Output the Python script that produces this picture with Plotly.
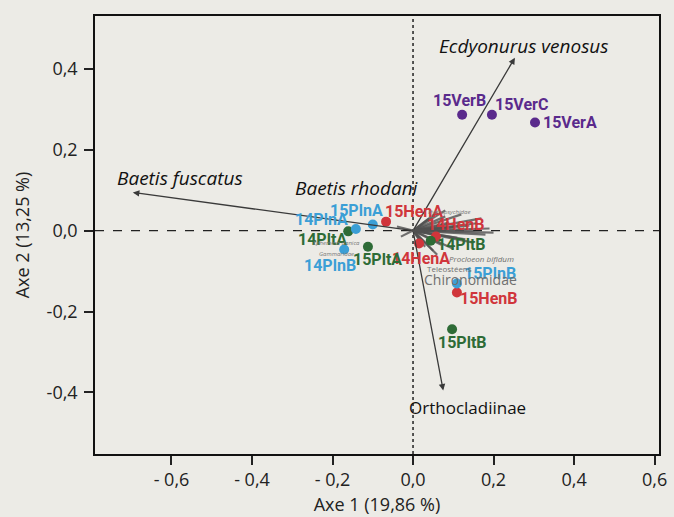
import plotly.graph_objects as go

# Sites (scores on axes 1 and 2)
sites = ["15VerB", "15VerC", "15VerA", "15HenA", "14HenB", "14PltB", "14HenA",
         "15PlnA", "14PlnA", "14PltA", "15PltA", "14PlnB", "15PlnB", "15HenB", "15PltB"]
axe1 = [0.122, 0.196, 0.303, -0.067, 0.057, 0.044, 0.015,
        -0.100, -0.142, -0.161, -0.112, -0.171, 0.109, 0.109, 0.097]
axe2 = [0.286, 0.286, 0.267, 0.022, -0.015, -0.025, -0.032,
        0.015, 0.004, -0.002, -0.040, -0.047, -0.131, -0.153, -0.244]
groups = ["Ver", "Ver", "Ver", "Hen", "Hen", "Plt", "Hen",
          "Pln", "Pln", "Plt", "Plt", "Pln", "Pln", "Hen", "Plt"]

# Main taxa vectors
taxa = ["Ecdyonurus venosus", "Baetis fuscatus", "Orthocladiinae"]
taxa_x = [0.253, -0.696, 0.075]
taxa_y = [0.427, 0.094, -0.395]

# Minor taxa vectors (cluster near origin)
minor_x = [0.19, 0.17, 0.15, 0.12, 0.10, 0.08, 0.06, 0.05, 0.14, 0.11, 0.09, 0.07,
           -0.04, -0.03, 0.03, 0.18, 0.16, 0.13, 0.04, 0.02, 0.06, 0.08, 0.2, 0.15, 0.1]
minor_y = [0.005, 0.03, -0.03, 0.04, -0.045, 0.035, 0.045, -0.05, 0.012, -0.018, 0.02, -0.035,
           0.01, -0.015, -0.04, -0.01, 0.018, -0.022, 0.03, -0.03, -0.06, 0.05, -0.005, 0.0, 0.008]

colors = {"Ver": "#5a2a8c", "Hen": "#d0353b", "Plt": "#2e6b36", "Pln": "#3b9fd6"}

offsets = {"15VerB": (-3, 14), "15VerC": (30, 10), "15VerA": (35, 0),
           "15HenA": (28, 10), "14HenB": (20, 12), "14PltB": (31, -4),
           "14HenA": (2, -15), "15PlnA": (-16, 14), "14PlnA": (-34, 9),
           "14PltA": (-26, -8), "15PltA": (10, -13), "14PlnB": (-14, -16),
           "15PlnB": (33, 10), "15HenB": (32, -6), "15PltB": (10, -13)}

BG = "#ecebe6"
FONT = "Open Sans, Noto Sans, sans-serif"

fig = go.Figure()

# reference lines
fig.add_shape(type="line", x0=0, x1=0, y0=-0.552, y1=0.53, xref="x", yref="y",
              line=dict(color="#222", width=1.5, dash="dot"), layer="below")
fig.add_shape(type="line", x0=-0.79, x1=0.611, y0=0, y1=0, xref="x", yref="y",
              line=dict(color="#222", width=1.3, dash="dash"), layer="below")

# minor taxa vectors
for mx, my in zip(minor_x, minor_y):
    fig.add_trace(go.Scatter(x=[0, mx], y=[0, my], mode="lines",
                             line=dict(color="rgba(80,80,80,0.8)", width=2.2),
                             hoverinfo="skip", showlegend=False))

# main taxa arrows
for name, tx, ty in zip(taxa, taxa_x, taxa_y):
    fig.add_annotation(x=tx, y=ty, ax=0, ay=0, xref="x", yref="y", axref="x", ayref="y",
                       showarrow=True, arrowhead=2, arrowsize=1, arrowwidth=1.3,
                       arrowcolor="#3a3a3a", text="")

# sites
for g in ["Ver", "Hen", "Plt", "Pln"]:
    xs = [x for x, gg in zip(axe1, groups) if gg == g]
    ys = [y for y, gg in zip(axe2, groups) if gg == g]
    fig.add_trace(go.Scatter(x=xs, y=ys, mode="markers",
                             marker=dict(color=colors[g], size=10),
                             hoverinfo="skip", showlegend=False))

for s, x, y, g in zip(sites, axe1, axe2, groups):
    dx, dy = offsets[s]
    fig.add_annotation(x=x, y=y, text="<b>" + s + "</b>", showarrow=False,
                       xshift=dx, yshift=dy,
                       font=dict(family="Liberation Sans Narrow, Arial Narrow, Roboto, sans-serif",
                                 size=16, color=colors[g]))

# taxa labels
fig.add_annotation(x=taxa_x[0], y=taxa_y[0], text="<i>Ecdyonurus venosus</i>", showarrow=False,
                   xshift=9, yshift=12, font=dict(family=FONT, size=19, color="#111"))
fig.add_annotation(x=taxa_x[1], y=taxa_y[1], text="<i>Baetis fuscatus</i>", showarrow=False,
                   xshift=47, yshift=15, font=dict(family=FONT, size=19, color="#111"))
fig.add_annotation(x=-0.14, y=0.106, text="<i>Baetis rhodani</i>", showarrow=False,
                   font=dict(family=FONT, size=19, color="#111"))
fig.add_annotation(x=taxa_x[2], y=taxa_y[2], text="Orthocladiinae", showarrow=False,
                   xshift=24, yshift=-17, font=dict(family=FONT, size=17, color="#111"))
fig.add_annotation(x=0.142, y=-0.121, text="Chironomidae", showarrow=False,
                   font=dict(family=FONT, size=14, color="#6f6f6f"))
fig.add_annotation(x=0.09, y=-0.094, text="Teleostéens", showarrow=False,
                   font=dict(family=FONT, size=8, color="#6f6f6f"))
fig.add_annotation(x=0.17, y=-0.068, text="<i>Procloeon bifidum</i>", showarrow=False,
                   font=dict(family=FONT, size=8, color="#6f6f6f"))
fig.add_annotation(x=-0.19, y=-0.03, text="<i>Ephemera danica</i>", showarrow=False,
                   font=dict(family=FONT, size=6, color="#777"))
fig.add_annotation(x=-0.19, y=-0.058, text="<i>Gammaridae</i>", showarrow=False,
                   font=dict(family=FONT, size=6, color="#777"))
fig.add_annotation(x=0.09, y=0.045, text="<i>Hydropsychidae</i>", showarrow=False,
                   font=dict(family=FONT, size=6, color="#777"))

fig.update_layout(
    width=674, height=517,
    margin=dict(l=95, r=15, t=16, b=63),
    paper_bgcolor=BG, plot_bgcolor=BG,
    font=dict(family=FONT, size=18, color="#222"),
    showlegend=False,
    xaxis=dict(range=[-0.79, 0.611], tickvals=[-0.6, -0.4, -0.2, 0, 0.2, 0.4, 0.6],
               ticktext=["- 0,6", "- 0,4", "- 0,2", "0,0", "0,2", "0,4", "0,6"],
               ticks="outside", ticklen=9, tickwidth=1.5, tickcolor="#222",
               showgrid=False, zeroline=False, showline=True, linecolor="#111",
               linewidth=1.5, mirror=True, automargin=False,
               title=dict(text="Axe 1 (19,86 %)", standoff=8, font=dict(size=18))),
    yaxis=dict(range=[-0.552, 0.53], tickvals=[-0.4, -0.2, 0, 0.2, 0.4],
               ticktext=["-0,4", "-0,2", "0,0", "0,2", "0,4"],
               ticks="outside", ticklen=9, tickwidth=1.5, tickcolor="#222",
               ticklabelstandoff=3, automargin=False,
               showgrid=False, zeroline=False, showline=True, linecolor="#111",
               linewidth=1.5, mirror=True,
               title=dict(text="Axe 2 (13,25 %)", standoff=12, font=dict(size=18))),
)

fig.write_html("out.html", config={"displayModeBar": False},
               post_script="document.body.style.margin='0';document.body.style.background='%s';" % BG)
